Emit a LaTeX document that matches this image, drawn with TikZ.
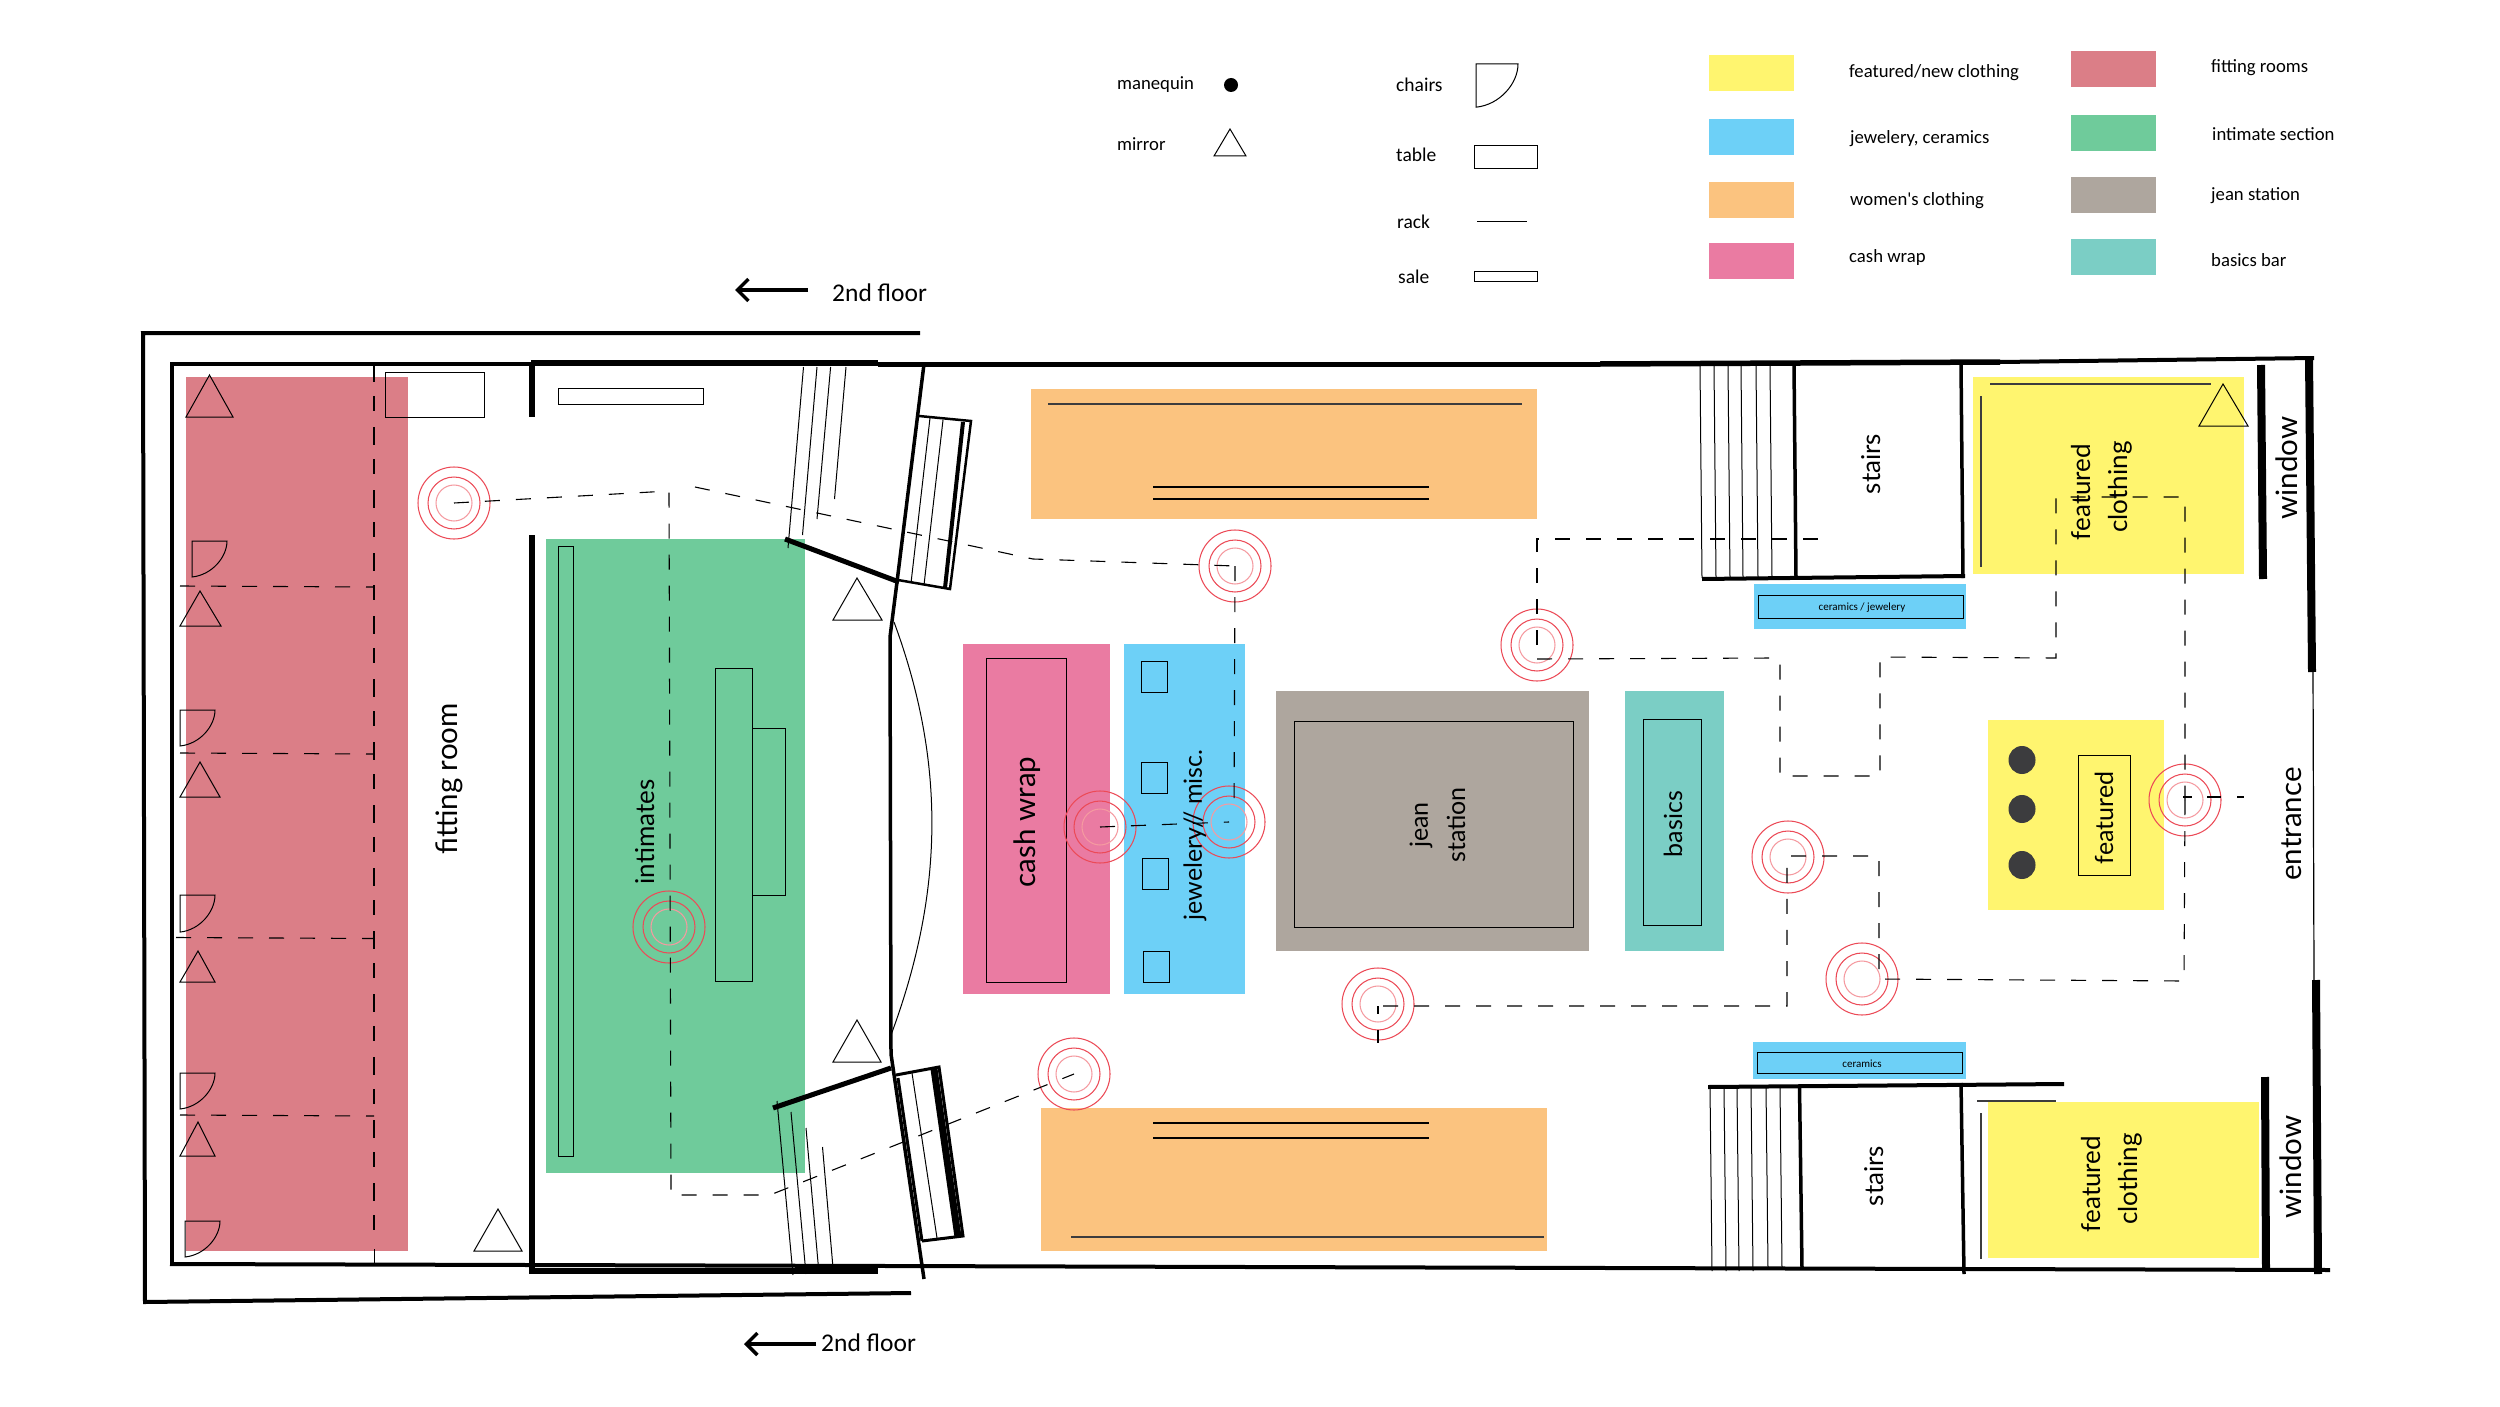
\documentclass[tikz,border=0pt]{standalone}
\usepackage{fontspec}
\setmainfont{Lato}
\newfontfamily\legendfont{Carlito}
\usetikzlibrary{arrows.meta}
\definecolor{cRed}{HTML}{DB7E87}
\definecolor{cGreen}{HTML}{6FCB9B}
\definecolor{cYellow}{HTML}{FFF56F}
\definecolor{cBlue}{HTML}{6DD0F7}
\definecolor{cOrange}{HTML}{FBC37F}
\definecolor{cPink}{HTML}{EA7BA2}
\definecolor{cGrey}{HTML}{AEA69E}
\definecolor{cTeal}{HTML}{7BCEC5}
\definecolor{cRing}{HTML}{EC4A57}
\definecolor{cRingIn}{HTML}{F59AA0}
\definecolor{cDark}{HTML}{3C3C3E}
\tikzset{
  wall/.style={line width=4pt,black,line cap=butt},
  heavy/.style={line width=6pt,black},
  bar/.style={line width=8pt,black},
  thin/.style={line width=1pt,black},
  rackline/.style={line width=1.3pt,cDark},
  walk/.style={line width=1.1pt,black,dash pattern=on 15pt off 16pt},
  lbl/.style={inner sep=0pt,rotate=90,font=\fontsize{25}{30}\selectfont},
  lblM/.style={inner sep=0pt,rotate=90,font=\fontsize{26}{30}\selectfont},
  lblL/.style={inner sep=0pt,rotate=90,font=\fontsize{29.5}{34}\selectfont},
  leg/.style={inner sep=0pt,anchor=west,font=\legendfont\fontsize{18.7}{22}\selectfont},
  legB/.style={inner sep=0pt,anchor=west,font=\legendfont\fontsize{19.5}{22}\selectfont},
  tiny/.style={inner sep=0pt,font=\legendfont\fontsize{11}{13}\selectfont},
  floorlbl/.style={inner sep=0pt,anchor=west,font=\legendfont\fontsize{25.5}{30}\selectfont}
}
\newcommand{\tgt}[3]{%
  \draw[cRing,line width=1.05pt] (#2,#3) circle[radius=36pt] (#2,#3) circle[radius=26pt];
  \draw[cRingIn,line width=1.05pt] (#2,#3) circle[radius=18pt];
  \coordinate (#1) at (#2,#3);}
\newcommand{\tri}[5]{\draw[thin] (#1,#5)--(#2,#5)--(#3,#4)--cycle;}
\newcommand{\chr}[4]{\begin{scope}[shift={(#1,#2)},xscale=#3,yscale=#4]
  \draw[thin] (0,0)--(35,0) .. controls (35,16) and (20,34) .. (0,36)--cycle;
  \end{scope}}
\begin{document}
\begin{tikzpicture}[x=1pt,y=-1pt]
\useasboundingbox (0,0) rectangle (2500,1407);
\fill[white] (0,0) rectangle (2500,1407);
% colour zones
\fill[cRed] (186,377) rectangle (408,1251);
\fill[cGreen] (546,539) rectangle (805,1173);
\fill[cOrange] (1031,389) rectangle (1537,519);
\fill[cOrange] (1041,1108) rectangle (1547,1251);
\fill[cPink] (963,644) rectangle (1110,994);
\fill[cBlue] (1124,644) rectangle (1245,994);
\fill[cGrey] (1276,691) rectangle (1589,951);
\fill[cTeal] (1625,691) rectangle (1724,951);
\fill[cYellow] (1973,377) rectangle (2244,574);
\fill[cYellow] (1988,720) rectangle (2164,910);
\fill[cYellow] (1988,1102) rectangle (2259,1258);
\fill[cBlue] (1754,584) rectangle (1966,629);
\fill[cBlue] (1753,1042) rectangle (1966,1079);
% legend swatches
\fill[cYellow] (1709,55) rectangle (1794,91);
\fill[cBlue] (1709,119) rectangle (1794,155);
\fill[cOrange] (1709,182) rectangle (1794,218);
\fill[cPink] (1709,243) rectangle (1794,279);
\fill[cRed] (2071,51) rectangle (2156,87);
\fill[cGreen] (2071,115) rectangle (2156,151);
\fill[cGrey] (2071,177) rectangle (2156,213);
\fill[cTeal] (2071,239) rectangle (2156,275);
% tables and racks
\draw[thin] (385,372) rectangle (484,417);
\draw[thin] (558.5,388) rectangle (703,404);
\draw[thin] (558.5,546) rectangle (573,1156);
\draw[thin] (715,668) rectangle (752,981);
\draw[thin] (752,728) rectangle (785,895);
\draw[thin] (986.5,658) rectangle (1066.5,982);
\draw[thin] (1141.5,661) rectangle (1167.5,692);
\draw[thin] (1141.5,762) rectangle (1167.5,793);
\draw[thin] (1142,858) rectangle (1168,889);
\draw[thin] (1143,951) rectangle (1169,982);
\draw[thin] (1294,721) rectangle (1573,927);
\draw[thin] (1643,719) rectangle (1701.5,925);
\draw[thin] (2078.5,755) rectangle (2130,875);
\draw[thin] (1758,595) rectangle (1963,618);
\draw[thin] (1757,1052) rectangle (1962,1073);
\draw[rackline,line width=2pt] (1048,404)--(1522,404);
\draw[rackline,black] (1153,487)--(1429,487) (1153,499)--(1429,499);
\draw[rackline,black] (1153,1123)--(1429,1123) (1153,1138)--(1429,1138);
\draw[rackline,line width=2.2pt] (1071,1237)--(1544,1237);
\draw[rackline] (1990,384)--(2211,384) (1981,396)--(1981,567);
\draw[rackline] (1977,1101)--(2056,1101) (1981,1113)--(1981,1259);
\fill[cDark] (2022,760) ellipse[x radius=13.5pt,y radius=14pt];
\fill[cDark] (2022,809) ellipse[x radius=13.5pt,y radius=14pt];
\fill[cDark] (2022,865) ellipse[x radius=13.5pt,y radius=14pt];
% mirrors
\tri{186}{233}{209.5}{375}{417}
\tri{180}{221}{200}{591}{626}
\tri{180}{220}{200}{762}{797}
\tri{180}{215}{198}{951}{982}
\tri{180}{215}{198}{1122}{1156}
\tri{474}{522}{498}{1209}{1251}
\tri{833}{882}{857}{578}{620}
\tri{833}{881}{857}{1020}{1062}
\tri{2199}{2248}{2223}{384}{426}
% chairs
\chr{192}{541}{1}{1}
\chr{180}{710}{1}{1}
\chr{180}{895}{1}{1.03}
\chr{180}{1073}{1}{1}
\chr{185}{1221}{1}{1}
% outer line
\draw[line width=4pt,line cap=butt] (920,333)--(143,333)--(145,1302)--(911,1293);
% building walls
\draw[wall] (174,364)--(531,364);
\draw[heavy] (531,363)--(878,363);
\draw[line width=5pt] (878,364)--(1600,364);
\draw[line width=5.5pt] (1600,364)--(2000,362);
\draw[wall] (2000,362)--(2314,358);
\draw[wall] (172,362)--(172,1266);
\draw[wall] (170,1264)--(2330,1270);
\draw[line width=5.5pt] (532,364)--(532,417);
\draw[line width=5.5pt] (532,535)--(532,1273);
\draw[line width=5.5pt] (529,1271)--(878,1271);
\draw[line width=3.5pt] (924,364)--(897,582)--(890,637)--(891,1054)--(924,1279);
\draw[thin] (894,622) .. controls (945,760) and (945,890) .. (891,1035);
\draw[line width=5pt] (785,539)--(899,582);
\draw[line width=5pt] (773,1108)--(891,1068);
% upper-left stairs
\draw[thin] (803.5,367)--(788,548) (817,367)--(802.5,535) (830.6,367)--(817,519) (846,367)--(834.5,499);
% lower-left stairs
\draw[thin] (777,1101)--(793,1275) (791,1112)--(806,1274) (806,1128)--(819,1273.5) (822.5,1147)--(833.5,1273.5);
% upper escalator
\draw[line width=2.5pt] (919,416)--(971,421)--(950,589)--(898,580);
\draw[line width=4pt] (963,422)--(945,588);
\draw[thin] (930,418)--(911,583) (943,420)--(924,585);
% lower escalator
\draw[line width=3pt] (896,1075)--(939,1067)--(963,1236)--(922,1241);
\draw[line width=7pt] (934,1069)--(958,1237);
\draw[line width=3pt] (898,1078)--(922,1241);
\draw[thin] (912,1073)--(937,1238);
% right stairs upper
\draw[thin] (1700,366)--(1702,578) (1714,366)--(1716,578) (1728,366)--(1730,578) (1741,366)--(1743,578) (1756,366)--(1758,578) (1770,366)--(1772,578);
\draw[line width=3.5pt] (1794,365)--(1796,578);
\draw[line width=3.5pt] (1961,364)--(1963,578);
\draw[line width=4pt] (1702,579)--(1965,576);
\draw[bar] (2261,365)--(2263,579);
\draw[bar] (2309,358)--(2312,672);
\draw[line width=1.2pt] (2313,672)--(2314,980);
\draw[bar] (2316,980)--(2318,1274);
% right stairs lower
\draw[wall] (1708,1087)--(2064,1084);
\draw[thin] (1710,1087)--(1712,1271) (1724,1087)--(1726,1271) (1737,1087)--(1739,1271) (1751,1087)--(1753,1271) (1766,1087)--(1768,1268) (1780,1087)--(1782,1268);
\draw[line width=3.5pt] (1799.5,1087)--(1802,1268);
\draw[line width=3.5pt] (1961,1083)--(1964,1274);
\draw[bar] (2265,1077)--(2266,1270);
% targets
\tgt{t1}{454}{503}
\tgt{t2}{1235}{566}
\tgt{t3}{1537}{645}
\tgt{t4}{1100}{827}
\tgt{t5}{1229}{822}
\tgt{t6}{1378}{1004}
\tgt{t7}{669}{927}
\tgt{t8}{1074}{1074}
\tgt{t9}{1788}{857}
\tgt{t10}{1862}{979}
\tgt{t11}{2185}{800}
% labels
\node[lblL] (nFit) at (449,779) {fitting room};
\node[lblM] (nInt) at (645,832) {intimates};
\node[lblL] (nCash) at (1027,822) {cash wrap};
\node[lbl] (nJew) at (1195,835) {jewelery// misc.};
\node[lbl] (nJean) at (1421,825) {jean};
\node[lbl] (nStat) at (1456,825) {station};
\node[lbl] (nBas) at (1673,824) {basics};
\node[lblM] (nSt1) at (1871,464) {stairs};
\node[lblM] (nSt2) at (1874,1176) {stairs};
\node[lblM] (nFe1) at (2081,492) {featured};
\node[lblM] (nCl1) at (2120,487) {clothing};
\node[lblM] (nFe2) at (2091,1184) {featured};
\node[lblM] (nCl2) at (2130.5,1179) {clothing};
\node[lblL] (nWi1) at (2287,468) {window};
\node[lblL] (nWi2) at (2291,1167) {window};
\node[lblL] (nEnt) at (2292,824) {entrance};
\node[lbl] (nFe3) at (2104,818) {featured};
\node[tiny] (nCJ) at (1862,608) {ceramics / jewelery};
\node[tiny] (nCe) at (1862,1064) {ceramics};
% walking route
\coordinate (a1) at (669,491);
\coordinate (a2) at (671,1195);
\coordinate (a3) at (770,1195);
\draw[walk] (t1)--(a1)--(a2)--(a3)--(t8);
\coordinate (b1) at (695,487);
\coordinate (b2) at (1033,559);
\draw[walk] (b1)--(b2)--(t2);
\draw[walk] (t2)--(1234,812);
\draw[walk] (t4)--(t5);
\coordinate (c1) at (1537,539);
\coordinate (c2) at (1818,539);
\draw[walk] (t3)--(c1)--(c2);
\coordinate (d0) at (1537,659);
\coordinate (d1) at (1775,658);
\coordinate (d2) at (1780,660);
\coordinate (d3) at (1780,776);
\coordinate (d4) at (1880,776);
\coordinate (d5) at (1880,657);
\coordinate (d6) at (2056,658);
\coordinate (d7) at (2056,497);
\coordinate (d8) at (2185,497);
\draw[walk] (d0)--(d1)--(d2)--(d3)--(d4)--(d5)--(d6)--(d7)--(d8)--(t11);
\coordinate (e0) at (2183,797);
\coordinate (e1) at (2246,797);
\draw[walk,dash pattern=on 9pt off 15pt on 14pt off 16pt on 7pt off 99pt] (e0)--(e1);
\coordinate (f1) at (2184,981);
\coordinate (f2) at (1879,979);
\coordinate (f3) at (1879,856);
\coordinate (f4) at (1787,856);
\coordinate (f5) at (1787,1006);
\coordinate (f6) at (1378,1006);
\coordinate (f7) at (1378,1043);
\draw[walk] (t11)--(f1)--(f2)--(f3)--(f4)--(f5)--(f6);
\draw[walk,dash pattern=on 8pt off 16pt on 13pt off 99pt] (f6)--(f7);
% fitting-room partitions
\coordinate (p0) at (374,364);
\coordinate (p1) at (374,1264);
\draw[walk,dash pattern=on 18pt off 14pt on 15pt off 16pt] (p0)--(374,1240);
\draw[thin] (374,1249)--(p1);
\draw[walk] (180,586)--(374,587);
\draw[walk] (180,753)--(374,754);
\draw[walk] (176,937.5)--(374,938.5);
\draw[walk] (180,1115)--(374,1116);
% floor arrows
\coordinate (u0) at (808,290);
\coordinate (u1) at (735,290);
\draw[line width=3.5pt,-{Straight Barb[length=11pt,width=22pt,line width=3.5pt]}] (u0)--(u1);
\coordinate (v0) at (816,1344);
\coordinate (v1) at (744,1344);
\draw[line width=3.5pt,-{Straight Barb[length=11pt,width=22pt,line width=3.5pt]}] (v0)--(v1);
\node[floorlbl] (nF1) at (832,293) {2nd floor};
\node[floorlbl] (nF2) at (821,1343) {2nd floor};
% legend symbols
\fill[black] (1231,85) circle[radius=7pt];
\tri{1214}{1246}{1230}{129}{156}
\chr{1476}{64}{1.2}{1.2}
\draw[thin] (1474,146) rectangle (1537,169);
\draw[thin] (1477,222)--(1527,222);
\draw[thin] (1474,271) rectangle (1537,281);
\node[leg] (l1) at (1117,85) {manequin};
\node[leg] (l2) at (1117,144) {mirror};
\node[legB] (l3) at (1396,85) {chairs};
\node[legB] (l4) at (1396,155) {table};
\node[legB] (l5) at (1397,222) {rack};
\node[legB] (l6) at (1398,277) {sale};
\node[leg] (l7) at (1849,73) {featured/new clothing};
\node[leg] (l8) at (1850,139) {jewelery, ceramics};
\node[leg] (l9) at (1850,201) {women's clothing};
\node[leg] (l10) at (1849,258) {cash wrap};
\node[leg] (l11) at (2211,68) {fitting rooms};
\node[leg] (l12) at (2212,134) {intimate section};
\node[leg] (l13) at (2211,196) {jean station};
\node[leg] (l14) at (2211,260) {basics bar};
\end{tikzpicture}
\end{document}
